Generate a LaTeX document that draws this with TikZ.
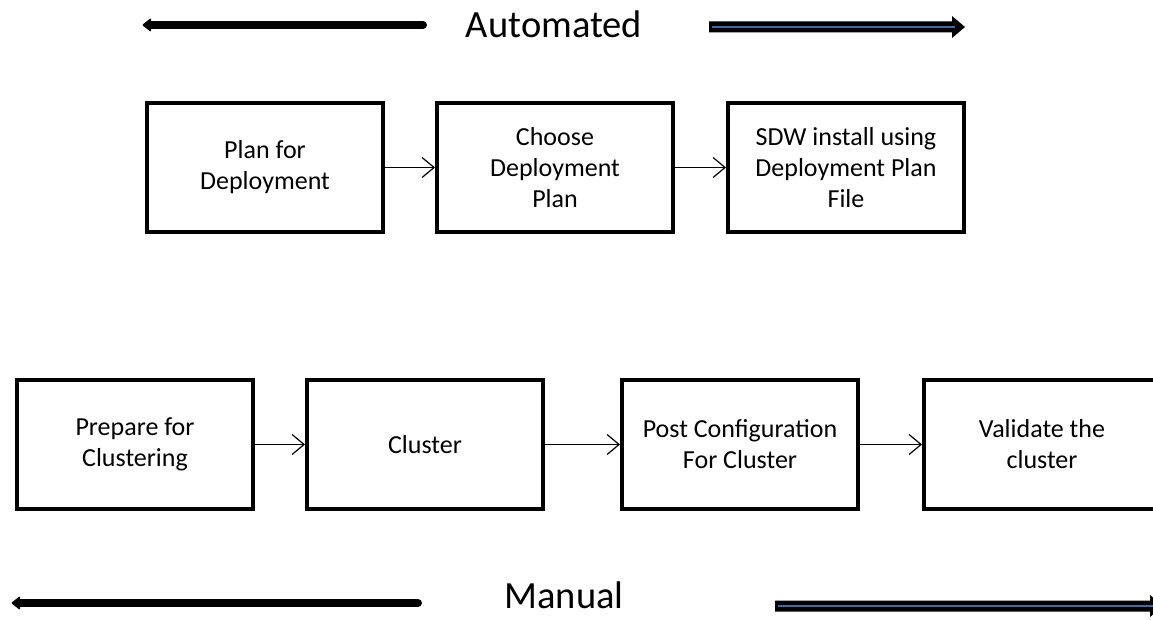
\documentclass[tikz,border=0pt]{standalone}
\usepackage{fontspec}
\setmainfont{Carlito}
\usetikzlibrary{arrows.meta}
\definecolor{arrblue}{RGB}{68,104,158}
\tikzset{
  stepbox/.style={draw=black, line width=4pt, minimum width=236pt, minimum height=129pt,
    inner sep=0pt, align=center, font=\fontsize{26}{31}\selectfont, anchor=north west},
  link/.style={line width=1.2pt, -{Straight Barb[length=12pt,width=20pt,line width=1.2pt]}},
  bigblack/.style={line width=8pt, line cap=round},
  title/.style={font=\fontsize{38.5}{42}\selectfont, anchor=base, inner sep=0pt, text depth=0pt},
}
\begin{document}
\begin{tikzpicture}[x=1pt,y=-1pt]
\useasboundingbox (0,0) rectangle (1153,620);
\begin{scope}
\clip (0,0) rectangle (1153,620);
% titles
\node[title] (auto) at (554,38) {Automated};
\node[title] (man) at (564,608) {Manual};
% top left black arrow
\draw[bigblack] (423,25) -- (150,25);
\fill[rounded corners=1pt] (142,25) -- (151,18) -- (151,32) -- cycle;
% top right block arrow
\fill[black] (709,21.5) -- (952,21.5) -- (952,16) -- (965,27) -- (952,38) -- (952,32.5) -- (709,32.5) -- cycle;
\draw[arrblue, line width=2.5pt] (712,27) -- (955,27);
% bottom left black arrow
\draw[bigblack] (418,603) -- (20,603);
\fill[rounded corners=1pt] (11,603) -- (20,596) -- (20,610) -- cycle;
% bottom right block arrow
\fill[black] (775,600.5) -- (1150,600.5) -- (1150,595) -- (1163,606) -- (1150,617) -- (1150,611.5) -- (775,611.5) -- cycle;
\draw[arrblue, line width=2.5pt] (778,606) -- (1158,606);
% top boxes
\node[stepbox] (b1) at (145,101) {Plan for\\Deployment};
\node[stepbox] (b2) at (435,101) {Choose\\Deployment\\Plan};
\node[stepbox] (b3) at (726,101) {SDW install using\\Deployment Plan\\File};
% bottom boxes
\node[stepbox] (c1) at (15,378) {Prepare for\\Clustering};
\node[stepbox] (c2) at (305,378) {Cluster};
\node[stepbox] (c3) at (620,378) {Post Configuration\\For Cluster};
\node[stepbox] (c4) at (922,378) {Validate the\\cluster};
% connectors
\draw[link] (b1.east) -- (b2.west);
\draw[link] (b2.east) -- (b3.west);
\draw[link] (c1.east) -- (c2.west);
\draw[link] (c2.east) -- (c3.west);
\draw[link] (c3.east) -- (c4.west);
\end{scope}
\end{tikzpicture}
\end{document}
